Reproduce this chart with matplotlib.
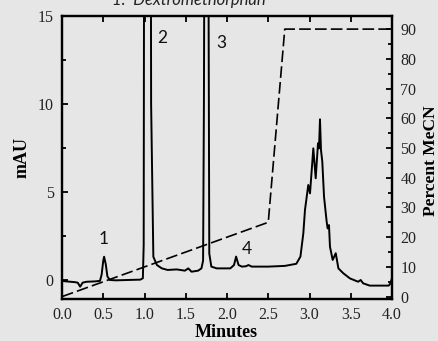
import matplotlib
matplotlib.use("Agg")
import matplotlib.pyplot as plt
from matplotlib.ticker import MultipleLocator

# chromatogram trace (minutes, mAU)
trace_t = [0.00, 0.05, 0.10, 0.15, 0.19, 0.22, 0.25, 0.30, 0.40, 0.46,
           0.48, 0.50, 0.51, 0.53, 0.55, 0.58, 0.65, 0.80, 0.95, 0.98,
           0.99, 1.00, 1.03, 1.07, 1.08, 1.107, 1.15, 1.21, 1.28, 1.39,
           1.49, 1.53, 1.57, 1.65, 1.69, 1.71, 1.72, 1.75, 1.78, 1.785,
           1.81, 1.875, 2.04, 2.085, 2.11, 2.14, 2.18, 2.23, 2.26, 2.30,
           2.50, 2.70, 2.84, 2.89, 2.925, 2.945, 2.985, 3.006, 3.046, 3.075,
           3.103, 3.115, 3.127, 3.139, 3.155, 3.176, 3.208, 3.22, 3.236, 3.248,
           3.281, 3.318, 3.35, 3.41, 3.49, 3.59, 3.62, 3.65, 3.73, 3.96,
           3.98, 4.00]
trace_mau = [-0.05, -0.08, -0.10, -0.12, -0.15, -0.38, -0.15, -0.10, -0.08, -0.05,
             0.30, 1.10, 1.32, 0.90, 0.20, 0.00, -0.02, 0.00, 0.02, 0.10,
             2.00, 40.0, 60.0, 40.0, 10.0, 1.32, 0.85, 0.66, 0.57, 0.60,
             0.53, 0.66, 0.47, 0.53, 0.66, 1.10, 10.0, 60.0, 10.0, 1.50,
             0.76, 0.66, 0.66, 0.85, 1.33, 0.85, 0.76, 0.78, 0.85, 0.76,
             0.76, 0.80, 0.92, 1.33, 2.65, 3.98, 5.40, 4.92, 7.48, 5.78,
             7.77, 7.48, 9.13, 7.39, 6.72, 4.73, 3.31, 2.93, 3.12, 1.89,
             1.14, 1.52, 0.66, 0.38, 0.09, -0.10, 0.00, -0.19, -0.32, -0.32,
             -0.20, 0.10]

# gradient program (minutes, % MeCN)
grad_t = [0.0, 2.5, 2.7, 4.0]
grad_pct = [0.0, 25.0, 90.0, 90.0]

peak_labels = ["1", "2", "3", "4"]
peak_label_t = [0.51, 1.215, 1.93, 2.24]
peak_label_mau = [2.35, 13.75, 13.45, 1.75]

x_ticks = [0, 0.5, 1.0, 1.5, 2.0, 2.5, 3.0, 3.5, 4.0]
x_ticklabels = ["0.0", "0.5", "1.0", "1.5", "2.0", "2.5", "3.0", "3.5", "4.0"]

title = "1.  Dextromethorphan"
bg = "#e6e6e6"
serif = ["Liberation Serif", "DejaVu Serif"]

fig = plt.figure(figsize=(4.38, 3.41), dpi=100, facecolor=bg)
ax = fig.add_axes([0.1416, 0.1232, 0.7534, 0.8298])
ax.set_facecolor(bg)

ax.plot(trace_t, trace_mau, color="black", lw=1.4, solid_joinstyle="round")
ax.set_xlim(0, 4)
ax.set_ylim(-1.08, 15)

ax2 = ax.twinx()
ax2.plot(grad_t, grad_pct, color="black", lw=1.2, linestyle=(0, (7, 2.5)))
ax2.set_ylim(-0.8, 94.4)

for a in (ax, ax2):
    for s in a.spines.values():
        s.set_linewidth(1.6)

ax.yaxis.set_major_locator(MultipleLocator(5))
ax.yaxis.set_minor_locator(MultipleLocator(2.5))
ax2.yaxis.set_major_locator(MultipleLocator(10))
ax2.yaxis.set_minor_locator(MultipleLocator(5))

ax.tick_params(axis="both", which="both", direction="in", width=1.3,
               length=4, top=True, right=False, labelsize=11.5, pad=6)
ax.tick_params(axis="y", which="minor", length=3)
ax2.tick_params(axis="y", which="both", direction="in", width=1.3,
                length=4, labelsize=11.5, pad=6)
ax2.tick_params(axis="y", which="minor", length=3)
ax.set_xticks(x_ticks)
ax.set_xticklabels(x_ticklabels)

for lab in ax.get_xticklabels() + ax.get_yticklabels() + ax2.get_yticklabels():
    lab.set_family(serif)
    lab.set_color("#222222")

ax.set_xlabel("Minutes", family=serif, fontweight="bold", fontsize=13)
ax.set_ylabel("mAU", family=serif, fontweight="bold", fontsize=13)
ax2.set_ylabel("Percent MeCN", family=serif, fontweight="bold", fontsize=12.5)
ax.xaxis.set_label_coords(0.497, -0.12)
ax.yaxis.set_label_coords(-0.12, 0.5)
ax2.yaxis.set_label_coords(1.117, 0.49)
ax.xaxis.label.set_va("center")
ax.yaxis.label.set_va("center")
ax2.yaxis.label.set_va("center")

for lab, t, m in zip(peak_labels, peak_label_t, peak_label_mau):
    ax.text(t, m, lab, ha="center", va="center", fontsize=12.5,
            family=["Lato", "DejaVu Sans"], color="#111111")

# title sits half outside the top edge, as in the source figure
fig.text(111.7 / 438, 1 - 5 / 341, title, ha="left", va="baseline",
         fontsize=12, style="italic", family=["Lato", "DejaVu Sans"],
         color="#222222")

fig.savefig("out.png", dpi=100, facecolor=bg)
